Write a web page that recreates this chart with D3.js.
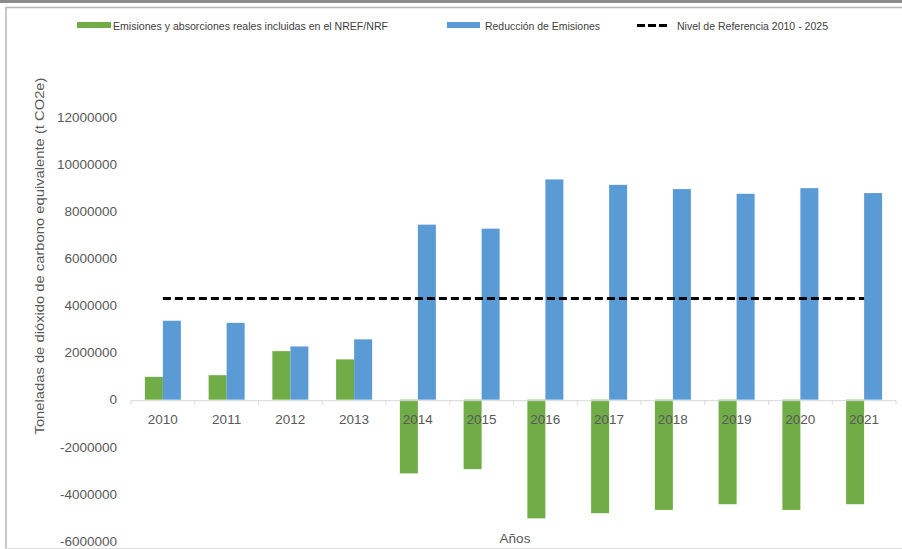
<!DOCTYPE html>
<html>
<head>
<meta charset="utf-8">
<script src="https://cdn.jsdelivr.net/npm/d3@7"></script>
<style>
  body { margin: 0; background: #fff; }
  svg { display: block; font-family: "Liberation Sans", Arial, sans-serif; }
</style>
</head>
<body>
<div id="chart"></div>
<script>
// data
const years = ["2010","2011","2012","2013","2014","2015","2016","2017","2018","2019","2020","2021"];
const realEmissions = [970000, 1040000, 2060000, 1710000, -3130000, -2950000, -5040000, -4820000, -4680000, -4440000, -4680000, -4440000];
const reductions = [3350000, 3260000, 2260000, 2560000, 7430000, 7260000, 9350000, 9120000, 8940000, 8740000, 8980000, 8770000];
const referenceLevel = 4300000;
const yTicks = [-6000000, -4000000, -2000000, 0, 2000000, 4000000, 6000000, 8000000, 10000000, 12000000];
const seriesNames = ["Emisiones y absorciones reales incluidas en el NREF/NRF", "Reducción de Emisiones", "Nivel de Referencia 2010 - 2025"];
const colors = ["#70ad47", "#5b9bd5", "#000000"];

const [W, H] = [902, 549];
const svg = d3.select("#chart").append("svg").attr("width", W).attr("height", H);

// frame around the picture
svg.append("rect").attr("x", 0).attr("y", 0).attr("width", W).attr("height", 3).attr("fill", "#8c8c8c");
svg.append("line").attr("x1", 6).attr("x2", W).attr("y1", 7.5).attr("y2", 7.5).attr("stroke", "#b5b5b5").attr("stroke-width", 1.5);
svg.append("line").attr("x1", 6).attr("x2", 6).attr("y1", 7).attr("y2", H).attr("stroke", "#b5b5b5").attr("stroke-width", 1.5);
svg.append("line").attr("x1", 6).attr("x2", W).attr("y1", 548.5).attr("y2", 548.5).attr("stroke", "#e0e0e0");

const x0 = d3.scaleBand().domain(years).range([131, 896]).paddingInner(0.435).paddingOuter(0.2175);
const x1 = d3.scaleBand().domain([0, 1]).range([0, x0.bandwidth()]);
const y = d3.scaleLinear().domain([-6000000, 12000000]).range([541, 117]);

// y axis labels (plain hyphen for negatives, like the original)
const yAxis = svg.append("g").attr("transform", "translate(131,0)")
  .call(d3.axisLeft(y).tickValues(yTicks).tickSize(0).tickPadding(14).tickFormat(d => String(d)));
yAxis.select(".domain").remove();
yAxis.selectAll("text").attr("fill", "#595959").attr("font-size", 13.5).attr("font-family", "Liberation Sans, Arial, sans-serif");

// bars
const rows = years.map((yr, i) => ({ yr, vals: [realEmissions[i], reductions[i]] }));
const groups = svg.append("g").selectAll("g").data(rows).enter().append("g")
  .attr("transform", d => `translate(${x0(d.yr)},0)`);
groups.selectAll("rect").data(d => d.vals.map((v, k) => ({ v, k }))).enter().append("rect")
  .attr("x", d => x1(d.k))
  .attr("width", x1.bandwidth())
  .attr("y", d => y(Math.max(0, d.v)))
  .attr("height", d => Math.abs(y(d.v) - y(0)))
  .attr("fill", d => colors[d.k]);

// category axis on zero line
const xAxis = svg.append("g").attr("transform", `translate(0,${y(0) + 1})`);
xAxis.append("line").attr("x1", 131).attr("x2", 896).attr("stroke", "#d9d9d9");
const step = x0.step();
xAxis.selectAll(".tk").data(d3.range(years.length + 1)).enter().append("line")
  .attr("x1", i => 131 + i * step).attr("x2", i => 131 + i * step)
  .attr("y1", 0).attr("y2", 4).attr("stroke", "#d9d9d9");
xAxis.selectAll("text").data(years).enter().append("text")
  .attr("x", d => x0(d) + x0.bandwidth() / 2)
  .attr("y", 23)
  .attr("text-anchor", "middle")
  .attr("fill", "#595959")
  .attr("font-size", 13.5)
  .text(d => d);

// reference level line
const line = d3.line().x(d => x0(d) + x0.bandwidth() / 2).y(() => y(referenceLevel));
svg.append("path").datum(years).attr("d", line)
  .attr("fill", "none").attr("stroke", "#000").attr("stroke-width", 3).attr("stroke-dasharray", "8,4");

// axis titles
svg.append("text").attr("transform", "translate(44,256) rotate(-90)")
  .attr("text-anchor", "middle").attr("fill", "#595959").attr("font-size", 13.5)
  .attr("textLength", 357).attr("lengthAdjust", "spacingAndGlyphs")
  .text("Toneladas de dióxido de carbono equivalente (t CO2e)");
svg.append("text").attr("x", 515).attr("y", 543).attr("text-anchor", "middle")
  .attr("fill", "#595959").attr("font-size", 13.5).text("Años");

// legend
const legend = [
  { x: 77, w: 34, tx: 113, tw: 275 },
  { x: 447, w: 33, tx: 485, tw: 115 },
  { x: 637, w: 30, tx: 677, tw: 151 }
];
legend.forEach((l, i) => {
  if (i < 2) {
    svg.append("rect").attr("x", l.x).attr("y", 22).attr("width", l.w).attr("height", 6).attr("fill", colors[i]);
  } else {
    svg.append("line").attr("x1", l.x).attr("x2", l.x + l.w).attr("y1", 25.5).attr("y2", 25.5)
      .attr("stroke", "#000").attr("stroke-width", 3).attr("stroke-dasharray", "8,3");
  }
  svg.append("text").attr("x", l.tx).attr("y", 29.5).attr("fill", "#404040").attr("font-size", 10.5)
    .attr("textLength", l.tw).attr("lengthAdjust", "spacingAndGlyphs").text(seriesNames[i]);
});
</script>
</body>
</html>
